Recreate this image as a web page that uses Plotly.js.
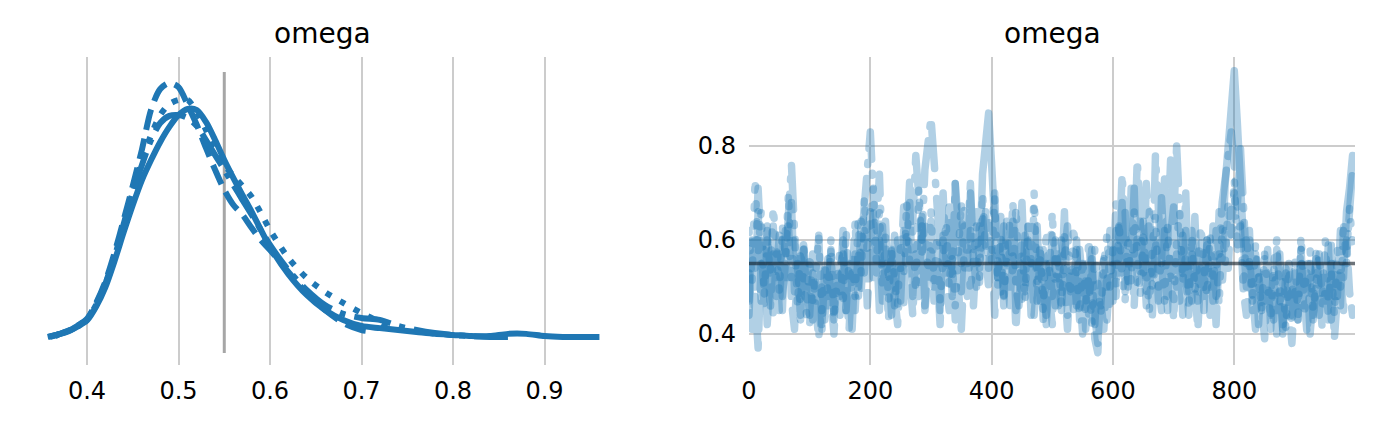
<!DOCTYPE html>
<html>
<head>
<meta charset="utf-8">
<script src="https://cdn.plot.ly/plotly-3.0.1.min.js"></script>
<style>
  html, body { margin: 0; padding: 0; background: #ffffff; }
  #chart { width: 1374px; height: 423px; }
  #chart .subplot.x2y2 .js-line { stroke-linecap: round !important; stroke-linejoin: round !important; }
</style>
</head>
<body>
<div id="chart"></div>
<script>
// ---------------- DATA ----------------
const varName = "omega";
const refValue = 0.55;
const chainNames = ["chain 0", "chain 1", "chain 2", "chain 3"];

// KDE of each chain (x = omega, y = density)
const kdeX0 = [0.357,0.37,0.38,0.39,0.40,0.41,0.42,0.43,0.44,0.45,
  0.46,0.47,0.48,0.49,0.50,0.51,0.52,0.53,0.54,0.55,0.56,0.57,0.58,0.59,0.60,
  0.62,0.64,0.66,0.68,0.70,0.72,0.74,0.76,0.78,0.80,0.82,0.84,0.86,0.88,0.90,0.92,0.94,0.96];
const kdeY0 = [0.04,0.14,0.25,0.42,0.64,1.15,1.85,2.80,3.85,4.85,
  5.76,6.49,7.15,7.70,8.13,8.35,8.31,7.88,7.22,6.49,5.83,5.21,4.60,3.94,3.32,
  2.33,1.57,1.02,0.66,0.44,0.36,0.29,0.22,0.15,0.11,0.07,0.07,0.15,0.15,0.07,0.04,0.04,0.04];

const kdeX1 = [0.36,0.37,0.38,0.39,0.40,0.41,0.42,0.43,0.44,0.45,
  0.46,0.47,0.48,0.49,0.50,0.51,0.52,0.53,0.54,0.55,0.56,0.57,0.58,0.59,0.60,
  0.62,0.64,0.66,0.68,0.70,0.705];
const kdeY1 = [0.04,0.15,0.27,0.46,0.70,1.28,2.05,3.10,4.30,5.55,
  6.87,8.33,9.08,9.30,9.15,8.50,7.77,6.93,6.13,5.40,4.85,4.49,4.01,3.57,3.21,
  2.41,1.64,1.02,0.55,0.29,0.26];

const kdeX2 = [0.365,0.37,0.38,0.39,0.40,0.41,0.42,0.43,0.44,0.45,
  0.46,0.47,0.48,0.49,0.50,0.51,0.52,0.53,0.54,0.55,0.56,0.57,0.58,0.59,0.60,
  0.62,0.64,0.66,0.68,0.70,0.72,0.73];
const kdeY2 = [0.06,0.15,0.26,0.44,0.67,1.22,1.96,2.95,4.10,5.25,
  6.49,7.40,8.13,8.53,8.68,8.68,8.24,7.59,6.86,6.31,5.91,5.54,5.14,4.56,3.94,
  2.92,2.19,1.68,1.28,0.91,0.58,0.36];

const kdeX3 = [0.358,0.37,0.38,0.39,0.40,0.41,0.42,0.43,0.44,0.45,
  0.46,0.47,0.48,0.49,0.50,0.51,0.52,0.53,0.54,0.55,0.56,0.57,0.58,0.59,0.60,
  0.62,0.64,0.66,0.68,0.70,0.72,0.74,0.76,0.78,0.80,0.82,0.84,0.86];
const kdeY3 = [0.04,0.15,0.26,0.45,0.68,1.24,1.98,3.00,4.15,5.30,
  6.31,7.22,7.84,8.10,8.13,8.02,7.73,7.22,6.67,6.13,5.58,5.03,4.49,3.94,3.39,
  2.48,1.75,1.20,0.88,0.73,0.66,0.44,0.29,0.18,0.11,0.07,0.04,0.04];

// Trace values, read every 5th draw (draw 0, 5, 10, ... 995)
const trace0 = [
  0.44,0.60,0.50,0.66,0.47,0.58,0.42,0.55,0.63,0.48,
  0.57,0.45,0.62,0.52,0.68,0.49,0.56,0.43,0.59,0.51,
  0.44,0.57,0.47,0.61,0.42,0.52,0.46,0.58,0.43,0.54,
  0.48,0.62,0.45,0.55,0.41,0.57,0.50,0.64,0.53,0.60,
  0.66,0.52,0.60,0.45,0.63,0.49,0.57,0.44,0.61,0.53,
  0.47,0.62,0.55,0.68,0.48,0.59,0.51,0.65,0.46,0.58,
  0.64,0.50,0.59,0.45,0.61,0.53,0.67,0.48,0.72,0.56,
  0.49,0.63,0.55,0.70,0.58,0.66,0.54,0.74,0.81,0.87,
  0.76,0.62,0.52,0.65,0.46,0.59,0.50,0.64,0.45,0.57,
  0.68,0.51,0.60,0.44,0.56,0.63,0.47,0.58,0.42,0.54,
  0.61,0.46,0.57,0.50,0.66,0.44,0.53,0.47,0.60,0.43,
  0.55,0.41,0.51,0.58,0.44,0.38,0.49,0.56,0.43,0.52,
  0.47,0.62,0.53,0.68,0.49,0.60,0.55,0.71,0.51,0.64,
  0.58,0.46,0.66,0.52,0.60,0.47,0.69,0.55,0.45,0.61,
  0.67,0.50,0.58,0.44,0.62,0.53,0.47,0.65,0.49,0.57,
  0.45,0.59,0.50,0.63,0.48,0.66,0.56,0.72,0.82,0.91,
  0.96,0.85,0.70,0.60,0.50,0.62,0.45,0.56,0.42,0.53,
  0.47,0.58,0.41,0.52,0.45,0.57,0.40,0.50,0.55,0.44,
  0.51,0.43,0.58,0.46,0.53,0.40,0.49,0.56,0.44,0.52,
  0.47,0.59,0.43,0.55,0.48,0.62,0.52,0.66,0.71,0.78];
const trace1 = [
  0.53,0.41,0.48,0.37,0.55,0.46,0.62,0.50,0.44,0.57,
  0.45,0.60,0.52,0.64,0.47,0.41,0.55,0.44,0.58,0.49,
  0.42,0.53,0.45,0.39,0.50,0.43,0.56,0.46,0.40,0.51,
  0.44,0.57,0.47,0.41,0.53,0.45,0.58,0.49,0.62,0.46,
  0.56,0.66,0.53,0.60,0.47,0.55,0.43,0.58,0.48,0.42,
  0.54,0.46,0.61,0.50,0.44,0.57,0.48,0.63,0.45,0.52,
  0.59,0.47,0.54,0.42,0.60,0.51,0.45,0.56,0.43,0.50,
  0.41,0.55,0.48,0.62,0.46,0.58,0.51,0.65,0.57,0.50,
  0.59,0.44,0.56,0.48,0.63,0.52,0.46,0.57,0.41,0.53,
  0.47,0.61,0.50,0.56,0.44,0.52,0.59,0.43,0.55,0.48,
  0.42,0.56,0.46,0.60,0.49,0.41,0.53,0.45,0.58,0.47,
  0.40,0.52,0.44,0.56,0.39,0.36,0.47,0.41,0.53,0.45,
  0.58,0.48,0.63,0.53,0.66,0.50,0.57,0.46,0.61,0.52,
  0.64,0.49,0.55,0.44,0.60,0.51,0.45,0.62,0.48,0.56,
  0.43,0.57,0.47,0.61,0.50,0.44,0.58,0.46,0.41,0.54,
  0.48,0.60,0.44,0.55,0.42,0.57,0.50,0.62,0.54,0.67,
  0.70,0.58,0.63,0.49,0.44,0.56,0.47,0.41,0.53,0.45,
  0.39,0.50,0.44,0.55,0.40,0.48,0.42,0.53,0.46,0.38,
  0.49,0.43,0.56,0.45,0.40,0.52,0.44,0.58,0.47,0.41,
  0.50,0.43,0.55,0.39,0.48,0.53,0.45,0.60,0.49,0.44];
const trace2 = [
  0.62,0.51,0.73,0.57,0.66,0.48,0.60,0.53,0.67,0.55,
  0.49,0.63,0.56,0.70,0.52,0.61,0.46,0.58,0.51,0.44,
  0.57,0.47,0.53,0.61,0.45,0.55,0.49,0.60,0.43,0.52,
  0.58,0.46,0.62,0.51,0.56,0.48,0.64,0.53,0.69,0.57,
  0.63,0.71,0.55,0.66,0.50,0.61,0.47,0.58,0.52,0.46,
  0.60,0.52,0.68,0.55,0.62,0.49,0.71,0.57,0.64,0.53,
  0.66,0.51,0.61,0.47,0.56,0.64,0.50,0.59,0.46,0.55,
  0.68,0.53,0.60,0.49,0.57,0.63,0.52,0.70,0.58,0.65,
  0.55,0.69,0.50,0.61,0.48,0.57,0.64,0.52,0.67,0.54,
  0.60,0.47,0.63,0.55,0.70,0.51,0.58,0.45,0.62,0.53,
  0.66,0.50,0.57,0.46,0.61,0.53,0.48,0.63,0.51,0.44,
  0.56,0.47,0.52,0.42,0.58,0.49,0.44,0.55,0.61,0.50,
  0.58,0.49,0.64,0.52,0.47,0.61,0.51,0.66,0.55,0.48,
  0.62,0.53,0.45,0.59,0.65,0.50,0.56,0.47,0.63,0.52,
  0.46,0.60,0.66,0.51,0.57,0.45,0.61,0.49,0.55,0.63,
  0.54,0.48,0.61,0.52,0.57,0.46,0.63,0.55,0.68,0.60,
  0.73,0.58,0.65,0.50,0.61,0.54,0.47,0.59,0.52,0.45,
  0.57,0.48,0.43,0.55,0.60,0.46,0.52,0.41,0.54,0.47,
  0.56,0.44,0.61,0.49,0.53,0.58,0.45,0.51,0.57,0.48,
  0.60,0.47,0.53,0.44,0.58,0.50,0.64,0.55,0.67,0.59];
const trace3 = [
  0.47,0.60,0.54,0.71,0.58,0.49,0.63,0.45,0.57,0.52,
  0.61,0.48,0.55,0.67,0.76,0.62,0.53,0.46,0.59,0.50,
  0.56,0.43,0.51,0.46,0.40,0.55,0.48,0.58,0.44,0.52,
  0.49,0.60,0.45,0.56,0.51,0.64,0.47,0.59,0.66,0.72,
  0.83,0.70,0.62,0.74,0.55,0.64,0.51,0.58,0.46,0.60,
  0.54,0.67,0.59,0.73,0.64,0.78,0.66,0.60,0.75,0.80,
  0.86,0.77,0.68,0.58,0.70,0.55,0.64,0.52,0.72,0.61,
  0.55,0.67,0.60,0.72,0.56,0.50,0.63,0.57,0.66,0.54,
  0.62,0.70,0.52,0.59,0.48,0.64,0.55,0.68,0.50,0.46,
  0.58,0.49,0.63,0.54,0.67,0.47,0.56,0.51,0.44,0.55,
  0.48,0.60,0.52,0.45,0.57,0.63,0.49,0.55,0.46,0.58,
  0.51,0.44,0.60,0.48,0.42,0.53,0.46,0.57,0.50,0.62,
  0.52,0.68,0.56,0.74,0.58,0.50,0.71,0.57,0.77,0.60,
  0.53,0.72,0.58,0.50,0.78,0.62,0.55,0.73,0.59,0.77,
  0.64,0.80,0.60,0.52,0.70,0.49,0.62,0.54,0.47,0.60,
  0.49,0.60,0.55,0.47,0.62,0.57,0.68,0.74,0.79,0.83,
  0.76,0.67,0.80,0.63,0.55,0.61,0.48,0.57,0.51,0.45,
  0.56,0.47,0.52,0.43,0.58,0.49,0.41,0.54,0.47,0.42,
  0.53,0.46,0.58,0.44,0.50,0.55,0.43,0.49,0.57,0.46,
  0.52,0.44,0.59,0.48,0.54,0.46,0.62,0.57,0.69,0.75];

const drawStep = 5;
const draws = trace0.map((_, i) => i * drawStep);
const lastDraw = 999;

const leftTicks = [0.4, 0.5, 0.6, 0.7, 0.8, 0.9];
const rightXTicks = [0, 200, 400, 600, 800];
const rightYTicks = [0.4, 0.6, 0.8];

// ---------------- STYLE ----------------
const blue = "#1f77b4";
const kdeW = 6;
const trW = 7.5;
const dashes = ["solid", "21px,9px", "6px,10px", "37px,9px,6px,9px"];
const trDashes = ["solid", "26px,14px", "2px,16px", "44px,14px,2px,14px"];

const kdeXs = [kdeX0, kdeX1, kdeX2, kdeX3];
const kdeYs = [kdeY0, kdeY1, kdeY2, kdeY3];
const traces = [trace0, trace1, trace2, trace3];

const data = [];
// Left: reference vertical line
data.push({
  type: "scatter", mode: "lines", x: [refValue, refValue], y: [-0.547, 9.70],
  xaxis: "x", yaxis: "y", hoverinfo: "skip", showlegend: false,
  line: { color: "rgba(0,0,0,0.35)", width: 3 }
});
kdeXs.forEach((kx, i) => {
  data.push({
    type: "scatter", mode: "lines", x: kx, y: kdeYs[i], name: chainNames[i],
    xaxis: "x", yaxis: "y", showlegend: false,
    line: { color: blue, width: kdeW, dash: dashes[i], shape: "spline", smoothing: 0.8 }
  });
});
traces.forEach((tv, i) => {
  data.push({
    type: "scatter", mode: "lines", x: draws, y: tv, name: chainNames[i],
    xaxis: "x2", yaxis: "y2", showlegend: false, opacity: 0.35,
    line: { color: blue, width: trW, dash: trDashes[i] }
  });
});
// Right: reference horizontal line
data.push({
  type: "scatter", mode: "lines", x: [0, lastDraw], y: [refValue, refValue],
  xaxis: "x2", yaxis: "y2", hoverinfo: "skip", showlegend: false,
  line: { color: "rgba(20,30,40,0.62)", width: 3.5 }
});

const W = 1374, H = 423;
const yDom = [(H - 365) / H, (H - 57) / H];
const gridC = "#cccccc";
const tickFont = { family: "DejaVu Sans, sans-serif", size: 24, color: "#000000" };
const titleFont = { family: "DejaVu Sans, sans-serif", size: 28, color: "#000000" };

const layout = {
  width: W, height: H,
  margin: { l: 0, r: 0, t: 0, b: 0 },
  paper_bgcolor: "#ffffff", plot_bgcolor: "#ffffff",
  showlegend: false,
  xaxis: {
    domain: [18.4 / W, 625.6 / W], range: [0.325, 0.9886],
    tickvals: leftTicks, ticktext: leftTicks.map(v => v.toFixed(1)),
    showgrid: true, gridcolor: gridC, gridwidth: 2,
    zeroline: false, showline: false, ticks: "", ticklabelstandoff: 9,
    tickfont: tickFont, anchor: "y"
  },
  yaxis: {
    domain: yDom, range: [-0.985, 10.248],
    showgrid: false, zeroline: false, showline: false, showticklabels: false, ticks: "",
    anchor: "x"
  },
  xaxis2: {
    domain: [749 / W, 1355 / W], range: [0, lastDraw],
    tickvals: rightXTicks, ticktext: rightXTicks.map(String),
    showgrid: true, gridcolor: gridC, gridwidth: 2,
    zeroline: false, showline: false, ticks: "", ticklabelstandoff: 9,
    tickfont: tickFont, anchor: "y2"
  },
  yaxis2: {
    domain: yDom, range: [0.334, 0.9894],
    tickvals: rightYTicks, ticktext: rightYTicks.map(v => v.toFixed(1)),
    showgrid: true, gridcolor: gridC, gridwidth: 2,
    zeroline: false, showline: false, ticks: "", ticklabelstandoff: 12,
    tickfont: tickFont, anchor: "x2"
  },
  annotations: [
    { text: varName, xref: "paper", yref: "paper", x: 322 / W, y: (H - 33) / H,
      xanchor: "center", yanchor: "middle", showarrow: false, font: titleFont },
    { text: varName, xref: "paper", yref: "paper", x: 1052 / W, y: (H - 33) / H,
      xanchor: "center", yanchor: "middle", showarrow: false, font: titleFont }
  ]
};

Plotly.newPlot("chart", data, layout, { staticPlot: true, displayModeBar: false });
</script>
</body>
</html>
